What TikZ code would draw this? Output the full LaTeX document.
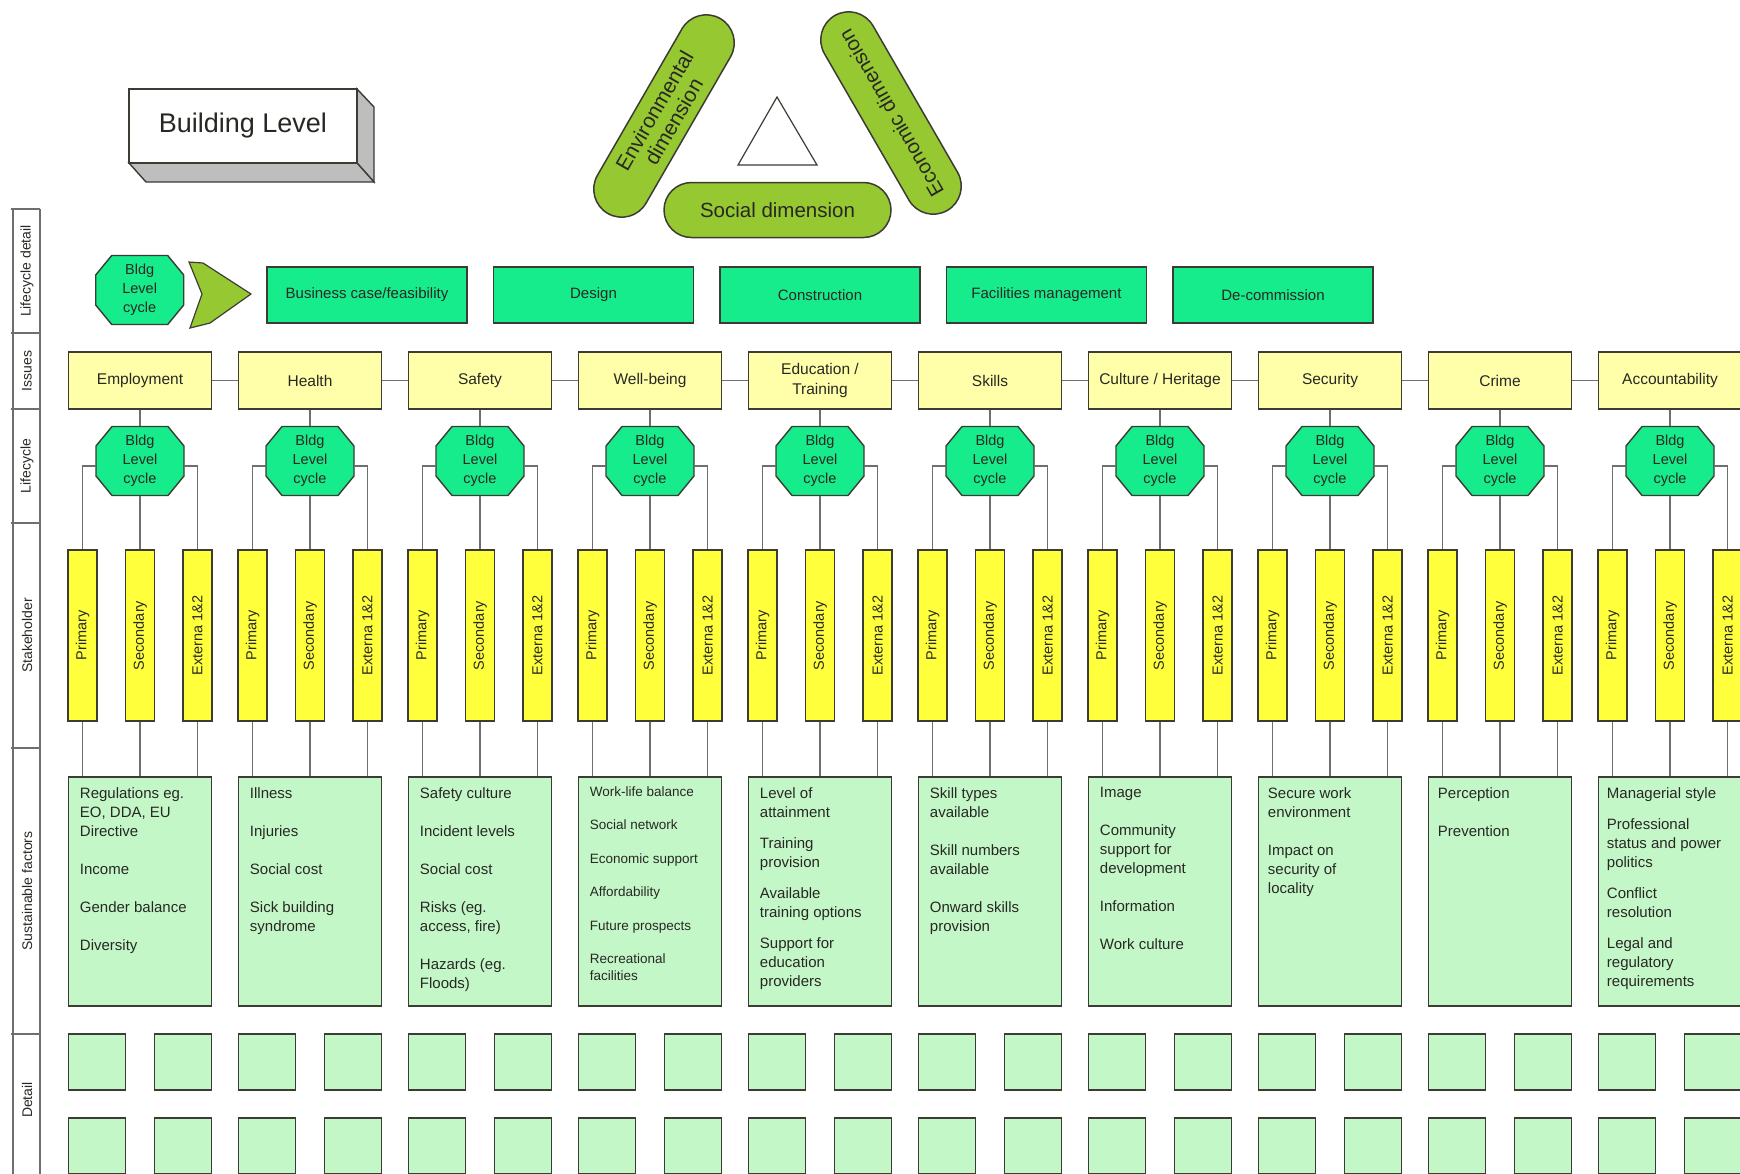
\documentclass[tikz,border=0pt]{standalone}
\usepackage{fontspec}
\setmainfont{Liberation Sans}
\usepackage{xcolor}
\usetikzlibrary{calc}
\usetikzlibrary{positioning}
\usetikzlibrary{shapes.misc}
\definecolor{cyclegreen}{RGB}{22,236,140}
\definecolor{dimgreen}{RGB}{150,200,50}
\definecolor{issueyellow}{RGB}{255,255,170}
\definecolor{stakeyellow}{RGB}{255,255,60}
\definecolor{factgreen}{RGB}{196,247,200}
\definecolor{edgegray}{RGB}{60,60,52}
\definecolor{wiregray}{RGB}{110,110,110}
\definecolor{sidegray}{RGB}{190,190,190}
\definecolor{inkgray}{RGB}{40,40,35}
\newcommand{\fsz}[2]{\fontsize{#1}{#2}\selectfont}
\newcommand{\bldg}{Bldg\\Level\\cycle}

\begin{document}
\begin{tikzpicture}[x=1pt,y=-1pt]
	\tikzset{
		plainbox/.style={draw=edgegray,line width=1.5pt,inner sep=0pt,text=inkgray},
		cyclebox/.style={plainbox,fill=cyclegreen,minimum width=200pt,minimum height=56pt,font=\fsz{15}{18}},
		issuebox/.style={plainbox,fill=issueyellow,minimum width=143pt,minimum height=57pt,align=center,font=\fsz{15.5}{20}},
		octo/.style={draw=edgegray,line width=1.4pt,fill=cyclegreen},
		octtext/.style={minimum width=88pt,minimum height=69pt,inner sep=0pt,align=center,text=inkgray,font=\fsz{14.5}{19}},
		stakebar/.style={plainbox,fill=stakeyellow,rotate=90,minimum width=171pt,minimum height=29pt,font=\fsz{14.5}{17}},
		factbox/.style={plainbox,fill=factgreen,minimum width=143pt,minimum height=229pt},
		facttext/.style={anchor=north west,inner sep=0pt,align=left,text=inkgray,font=\fsz{15}{19}},
		detailbox/.style={plainbox,fill=factgreen,minimum width=57pt,minimum height=56pt},
		dimpill/.style={plainbox,fill=dimgreen,shape=rounded rectangle,inner xsep=0pt,minimum width=225pt,minimum height=56pt,align=center,font=\fsz{20.5}{22}},
		wire/.style={draw=wiregray,line width=1.3pt},
		rowlabel/.style={rotate=90,text=inkgray,font=\fsz{14}{16}},
	}
	\fill[white] (0,0) rectangle (1740,1173);
	\useasboundingbox (0,0) rectangle (1740,1173);
	\clip (0,0) rectangle (1740,1173);

	% title block
	\fill[sidegray,draw=edgegray,line width=1.4pt] (357,89) -- (374,107) -- (374,182) -- (357,163) -- cycle;
	\fill[sidegray,draw=edgegray,line width=1.4pt] (129,163) -- (146,182) -- (374,182) -- (357,163) -- cycle;
	\node[plainbox,fill=white,minimum width=228pt,minimum height=74pt,font=\fsz{27}{30}] (level) at (243,126) {Building Level};

	% the three dimensions
	\node[dimpill,rotate=60,font=\fsz{21}{22}] (env) at (664,116) {Environmental\\dimension};
	\node[dimpill,rotate=120] (eco) at (891,113) {};
	\node[rotate=120,inner sep=0pt,text=inkgray,font=\fsz{20.5}{22}] (ecotext) at (eco) {Economic dimension};
	\node[dimpill,minimum width=227pt,minimum height=55pt] (soc) at (777.5,210) {Social dimension};
	\draw[draw=edgegray,line width=1.2pt] (777,97) -- (817,165) -- (738,165) -- cycle;

	% row labels
	\draw[wiregray,line width=1.2pt] (13,209) -- (13,1180) (40,209) -- (40,1180);
	\foreach \yy in {209,333,409,523,748,1034}
		\draw[wiregray,line width=1.2pt] (11,\yy) -- (40,\yy);
	\foreach \yy/\txt [count=\k] in {271/Lifecycle detail,371/Issues,466/Lifecycle,635.5/Stakeholder,891/Sustainable factors,1100/Detail}
		\node[rowlabel] (row\k) at (27,\yy) {\txt};

	% lifecycle detail
	\draw[octo,shift={(139.7,290)}] (-28,-34.5) -- (28,-34.5) -- (44,-15) -- (44,15) -- (28,34.5) -- (-28,34.5) -- (-44,15) -- (-44,-15) -- cycle;
	\node[octtext] (oct0) at (139.7,290) {\bldg};
	\fill[dimgreen,draw=edgegray,line width=1.2pt] (189,262) -- (203,263) -- (251,294) -- (210,323) -- (190,328) -- (202,294) -- cycle;
	\foreach \txt [count=\k] in {{Business case/feasibility},Design,Construction,{Facilities management},De-commission}
		\node[cyclebox] (stage\k) at ({367+226.5*(\k-1)},295) {\txt};

	% issues
	\foreach \txt [count=\k] in {Employment,Health,Safety,Well-being,{Education /\\Training},Skills,{Culture / Heritage},Security,Crime,Accountability}
		\node[issuebox] (iss\k) at ({140+170*(\k-1)},380.5) {\txt};
	\foreach \k in {2,...,10}{
		\pgfmathtruncatemacro{\prev}{\k-1}
		\draw[wire] (iss\prev) -- (iss\k);
	}

	% columns
	\foreach \k in {1,...,10}{
		\pgfmathsetmacro{\cx}{140+170*(\k-1)}
		\draw[octo,shift={(\cx,461)}] (-28,-34.5) -- (28,-34.5) -- (44,-15) -- (44,15) -- (28,34.5) -- (-28,34.5) -- (-44,15) -- (-44,-15) -- cycle;
		\node[octtext] (oct\k) at (\cx,461) {\bldg};
		\node[stakebar] (pri\k) at (\cx-57.5,635.5) {Primary};
		\node[stakebar] (sec\k) at (\cx,635.5) {Secondary};
		\node[stakebar] (ext\k) at (\cx+57.5,635.5) {Externa 1\&2};
		\node[factbox] (fac\k) at (\cx,891.5) {};
		\draw[wire] (iss\k) -- (oct\k);
		\draw[wire] ([yshift=-5pt]oct\k.west) -| (pri\k.east);
		\draw[wire] (oct\k) -- (sec\k.east);
		\draw[wire] ([yshift=-5pt]oct\k.east) -| (ext\k.east);
		\draw[wire] (pri\k.west) -- (pri\k.west |- fac\k.north);
		\draw[wire] (sec\k.west) -- (sec\k.west |- fac\k.north);
		\draw[wire] (ext\k.west) -- (ext\k.west |- fac\k.north);
		\foreach \r/\yy in {1/1062,2/1146}{
			\node[detailbox] (dl\k-\r) at (\cx-43,\yy) {};
			\node[detailbox] (dr\k-\r) at (\cx+43,\yy) {};
		}
	}

	% sustainable factors
	\node[facttext] (txt1) at ([shift={(12,11)}]fac1.north west) {Regulations eg.\\EO, DDA, EU\\Directive\\[19pt]Income\\[19pt]Gender balance\\[19pt]Diversity};
	\node[facttext] (txt2) at ([shift={(12,11)}]fac2.north west) {Illness\\[19pt]Injuries\\[19pt]Social cost\\[19pt]Sick building\\syndrome};
	\node[facttext] (txt3) at ([shift={(12,11)}]fac3.north west) {Safety culture\\[19pt]Incident levels\\[19pt]Social cost\\[19pt]Risks (eg.\\access, fire)\\[19pt]Hazards (eg.\\Floods)};
	\node[facttext,font=\fsz{13.5}{17}] (txt4) at ([shift={(12,10)}]fac4.north west) {Work-life balance\\[16.5pt]Social network\\[16.5pt]Economic support\\[16.5pt]Affordability\\[16.5pt]Future prospects\\[16.5pt]Recreational\\facilities};
	\node[facttext] (txt5) at ([shift={(12,11)}]fac5.north west) {Level of\\attainment\\[12pt]Training\\provision\\[12pt]Available\\training options\\[12pt]Support for\\education\\providers};
	\node[facttext] (txt6) at ([shift={(12,11)}]fac6.north west) {Skill types\\available\\[19pt]Skill numbers\\available\\[19pt]Onward skills\\provision};
	\node[facttext] (txt7) at ([shift={(12,11)}]fac7.north west) {Image\\[19pt]Community\\support for\\development\\[19pt]Information\\[19pt]Work culture};
	\node[facttext] (txt8) at ([shift={(10,11)}]fac8.north west) {Secure work\\environment\\[19pt]Impact on\\security of\\locality};
	\node[facttext] (txt9) at ([shift={(10,11)}]fac9.north west) {Perception\\[19pt]Prevention};
	\node[facttext] (txt10) at ([shift={(9,11)}]fac10.north west) {Managerial style\\[12pt]Professional\\status and power\\politics\\[12pt]Conflict\\resolution\\[12pt]Legal and\\regulatory\\requirements};
\end{tikzpicture}
\end{document}
